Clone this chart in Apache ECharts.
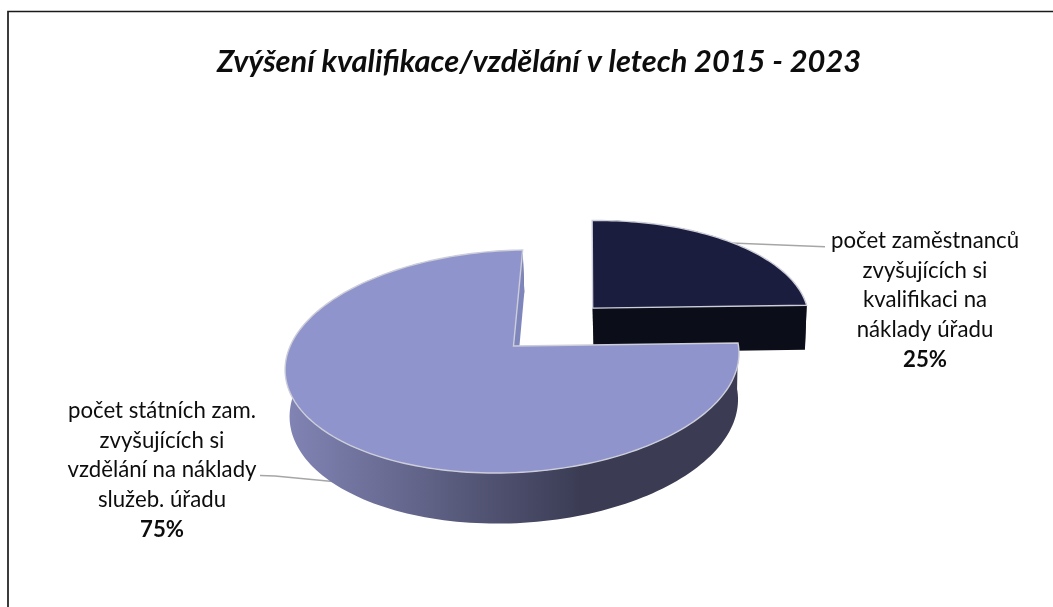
<!DOCTYPE html>
<html><head><meta charset="utf-8">
<style>html,body{margin:0;padding:0;background:#fff}#c{width:1053px;height:607px}</style>
<script src="https://cdn.jsdelivr.net/npm/echarts@6/dist/echarts.min.js"></script>
</head><body><div id="c"></div>
<script>
const titleText = 'Zvýšení kvalifikace/vzdělání v letech 2015 - 2023';
const categories = [
  'počet zaměstnanců\nzvyšujících si\nkvalifikaci na\nnáklady úřadu',
  'počet státních zam.\nzvyšujících si\nvzdělání na náklady\nslužeb. úřadu'
];
const values = [25, 75];
const explode = [0.5, 0];
const faceColors = ['#1a1d3e', '#8f95cc'];
const wallColors = ['#0b0d18', '#7f86bc'];

const total = values.reduce((s, v) => s + v, 0);
const startAngle = -Math.PI / 2;
const P = {a: 224.5, b: -81.8, c: 513.5, d: -3, e: 61.25, f: 346, h: -0.139, k: 0.012, vx: 660};

function project(X, Y, low) {
  const w = 1 + P.h * Y;
  let x = (P.a * X + P.b * Y + P.c) / w;
  let y = (P.d * X + P.e * Y + P.f) / w;
  if (low) { x += P.k * (P.vx - x); y += 46 + (y - 346) * 0.0357; }
  return [x, y];
}
function arc(a0, a1, ox, oy, low) {
  const n = Math.max(2, Math.ceil(Math.abs(a1 - a0) / (Math.PI / 120)));
  const pts = [];
  for (let i = 0; i <= n; i++) {
    const t = a0 + (a1 - a0) * i / n;
    pts.push(project(ox + Math.cos(t), oy + Math.sin(t), low));
  }
  return pts;
}
const wallGradient = (i) => i === 0 ? wallColors[0] : {
  type: 'linear', global: true, x: 285, y: 0, x2: 580, y2: 0,
  colorStops: [{offset: 0, color: '#8285b5'}, {offset: 1, color: '#3b3c54'}]
};
function renderItem(params, api) {
  const i = params.dataIndex;
  let a0 = startAngle;
  for (let j = 0; j < i; j++) a0 += values[j] / total * 2 * Math.PI;
  const a1 = a0 + api.value(0) / total * 2 * Math.PI;
  const mid = (a0 + a1) / 2;
  const ox = explode[i] * Math.cos(mid), oy = explode[i] * Math.sin(mid);
  const topArc = arc(a0, a1, ox, oy, false);
  const lowArc = arc(a0, a1, ox, oy, true);
  const children = [];
  children.push({type: 'polygon', shape: {points: topArc.concat(lowArc.slice().reverse())},
    style: {fill: wallGradient(i)}});
  const radial = (ang) => {
    const cx = ox + Math.cos(ang), cy = oy + Math.sin(ang);
    children.push({type: 'polygon', shape: {points: [
      project(ox, oy, false), project(cx, cy, false), project(cx, cy, true), project(ox, oy, true)
    ]}, style: {fill: wallColors[i]}});
  };
  if (-Math.cos(a0) >= -1e-6) radial(a0);
  if (Math.cos(a1) >= -1e-6) radial(a1);
  children.push({type: 'polygon',
    shape: {points: [project(ox, oy, false)].concat(topArc)},
    style: {fill: faceColors[i], stroke: '#cdced9', lineWidth: 1.4, lineJoin: 'miter'}});
  return {type: 'group', children};
}
const pctText = (i) => Math.round(values[i] / total * 100) + '%';
const labelStyle = (i, x, y) => ({
  type: 'text', x, y, silent: true, z: 5,
  style: {
    text: categories[i] + '\n{b|' + pctText(i) + '}',
    font: '22.2px Lato', fill: '#0d0d0d', align: 'center', verticalAlign: 'top', lineHeight: 29.7,
    rich: {b: {font: 'bold 22.2px Lato', fill: '#0d0d0d', lineHeight: 29.7}}
  }
});
const chart = echarts.init(document.getElementById('c'), null, {renderer: 'canvas'});
chart.setOption({
  animation: false,
  backgroundColor: '#ffffff',
  title: {
    text: titleText, left: 534, top: 42, textAlign: 'center',
    textStyle: {fontFamily: 'Lato', fontStyle: 'italic', fontWeight: 'bold', fontSize: 30.8, color: '#0d0d0d'}
  },
  tooltip: {show: false},
  graphic: [
    {type: 'polyline', silent: true, z: 0, shape: {points: [[8, 607], [8, 11.5], [1053, 11.5]]},
      style: {stroke: '#1a1a1a', lineWidth: 1.7, fill: 'none'}},
    {type: 'polyline', silent: true, z: 0, shape: {points: [[731, 243], [825, 246.7]]},
      style: {stroke: '#a6a6a6', lineWidth: 1.5, fill: 'none'}},
    {type: 'polyline', silent: true, z: 0, shape: {points: [[260, 475.5], [275, 476], [338, 482]]},
      style: {stroke: '#a6a6a6', lineWidth: 1.5, fill: 'none'}},
    labelStyle(0, 925, 226),
    labelStyle(1, 162, 396)
  ],
  series: [{
    type: 'custom', coordinateSystem: 'none', clip: false, z: 2,
    renderItem,
    data: values.map((v, i) => ({name: categories[i], value: [v, i]}))
  }]
});
</script></body></html>
